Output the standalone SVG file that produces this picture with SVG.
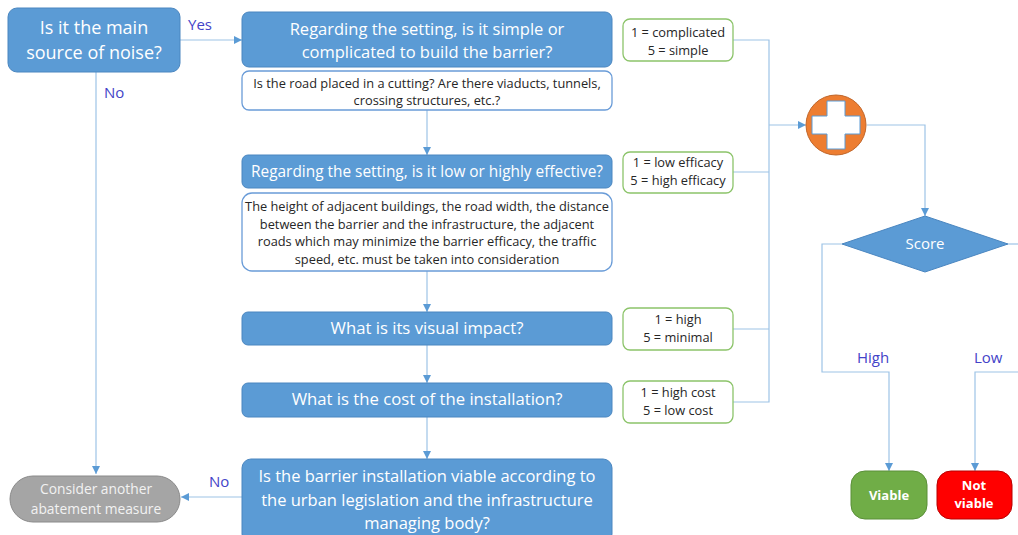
<svg xmlns="http://www.w3.org/2000/svg" width="1018" height="535" viewBox="0 0 1018 535">
  <style>
    .q { fill: #5B9BD5; stroke: #4A86C0; stroke-width: 1; }
    .note { fill: #FFFFFF; stroke: #6A9CD8; stroke-width: 1.3; }
    .scale { fill: #FFFFFF; stroke: #8CC46A; stroke-width: 1.3; }
    .wt { font-family: "Open Sans", "Liberation Sans", sans-serif; fill: #FFFFFF; text-anchor: middle; }
    .dk { font-family: "Open Sans", "Liberation Sans", sans-serif; fill: #262626; text-anchor: middle; }
    .lbl { font-family: "Open Sans", "Liberation Sans", sans-serif; fill: #4343C8; font-size: 15px; }
    .bold { font-weight: bold; }
    .conn { fill: none; stroke: #9DC3E6; stroke-width: 1.2; }
  </style>
  <defs>
    <marker id="arrow" viewBox="0 0 10 10" refX="10" refY="5" markerWidth="8" markerHeight="8" markerUnits="userSpaceOnUse" orient="auto">
      <path d="M0,0 L10,5 L0,10 z" fill="#5B9BD5"/>
    </marker>
  </defs>

  <!-- connectors -->
  <g id="connectors">
    <path class="conn" d="M180,40 H242" marker-end="url(#arrow)"/>
    <path class="conn" d="M96,72 V474" marker-end="url(#arrow)"/>
    <path class="conn" d="M427,110 V155" marker-end="url(#arrow)"/>
    <path class="conn" d="M427,271 V312" marker-end="url(#arrow)"/>
    <path class="conn" d="M427,345 V383" marker-end="url(#arrow)"/>
    <path class="conn" d="M427,417 V459" marker-end="url(#arrow)"/>
    <path class="conn" d="M242,497 H181" marker-end="url(#arrow)"/>
    <path class="conn" d="M733,40 H769 V402 H733"/>
    <path class="conn" d="M733,172 H769"/>
    <path class="conn" d="M733,329 H769"/>
    <path class="conn" d="M769,125 H806" marker-end="url(#arrow)"/>
    <path class="conn" d="M867,125 H925 V216" marker-end="url(#arrow)"/>
    <path class="conn" d="M842,244 H822 V372 H889 V471" marker-end="url(#arrow)"/>
    <path class="conn" d="M1008,244 H1020"/>
    <path class="conn" d="M1020,372 H975 V471" marker-end="url(#arrow)"/>
  </g>

  <!-- connector labels -->
  <g id="labels">
    <text class="lbl" x="188" y="30">Yes</text>
    <text class="lbl" x="104" y="98">No</text>
    <text class="lbl" x="209" y="487">No</text>
    <text class="lbl" x="857" y="363">High</text>
    <text class="lbl" x="974" y="363">Low</text>
  </g>

  <g id="main-source">
    <rect class="q" x="8" y="8" width="172" height="64" rx="9"/>
    <text class="wt" x="94" y="34" font-size="18">Is it the main</text>
    <text class="wt" x="94" y="59" font-size="18">source of noise?</text>
  </g>

  <g id="build-setting">
    <rect class="q" x="242" y="12" width="370" height="55" rx="7"/>
    <text class="wt" x="427" y="35" font-size="16.5">Regarding the setting, is it simple or</text>
    <text class="wt" x="427" y="58" font-size="16.5">complicated to build the barrier?</text>
  </g>
  <g id="build-note">
    <rect class="note" x="242" y="71" width="370" height="39" rx="7"/>
    <text class="dk" x="427" y="88" font-size="12.8">Is the road placed in a cutting? Are there viaducts, tunnels,</text>
    <text class="dk" x="427" y="105" font-size="12.8">crossing structures, etc.?</text>
  </g>

  <g id="efficacy">
    <rect class="q" x="242" y="155" width="370" height="33" rx="6"/>
    <text class="wt" x="427" y="177" font-size="15.4">Regarding the setting, is it low or highly effective?</text>
  </g>
  <g id="efficacy-note">
    <rect class="note" x="242" y="193" width="370" height="78" rx="10"/>
    <text class="dk" x="427" y="211" font-size="12.8">The height of adjacent buildings, the road width, the distance</text>
    <text class="dk" x="427" y="229" font-size="12.8">between the barrier and the infrastructure, the adjacent</text>
    <text class="dk" x="427" y="246" font-size="12.8">roads which may minimize the barrier efficacy, the traffic</text>
    <text class="dk" x="427" y="264" font-size="12.8">speed, etc. must be taken into consideration</text>
  </g>

  <g id="visual-impact">
    <rect class="q" x="242" y="312" width="370" height="33" rx="6"/>
    <text class="wt" x="427" y="334" font-size="16.7">What is its visual impact?</text>
  </g>

  <g id="cost">
    <rect class="q" x="242" y="383" width="370" height="34" rx="6"/>
    <text class="wt" x="427" y="405" font-size="16.7">What is the cost of the installation?</text>
  </g>

  <g id="legislation">
    <rect class="q" x="242" y="459" width="370" height="84" rx="9"/>
    <text class="wt" x="427" y="482" font-size="16.5">Is the barrier installation viable according to</text>
    <text class="wt" x="427" y="506" font-size="16.5">the urban legislation and the infrastructure</text>
    <text class="wt" x="427" y="529" font-size="16.5">managing body?</text>
  </g>

  <g id="another-measure">
    <rect x="10" y="476" width="170" height="46" rx="23" fill="#A5A5A5" stroke="#8A8A8A" stroke-width="1"/>
    <text x="96" y="494" font-size="13.8" font-family="Open Sans, Liberation Sans, sans-serif" fill="#F2F2F2" text-anchor="middle">Consider another</text>
    <text x="96" y="514" font-size="13.8" font-family="Open Sans, Liberation Sans, sans-serif" fill="#F2F2F2" text-anchor="middle">abatement measure</text>
  </g>

  <g id="scale-complexity">
    <rect class="scale" x="623" y="19" width="110" height="42" rx="7"/>
    <text class="dk" x="678" y="37" font-size="12.8">1 = complicated</text>
    <text class="dk" x="678" y="55" font-size="12.8">5 = simple</text>
  </g>
  <g id="scale-efficacy">
    <rect class="scale" x="623" y="152" width="110" height="41" rx="7"/>
    <text class="dk" x="678" y="167" font-size="12.8">1 = low efficacy</text>
    <text class="dk" x="678" y="185" font-size="12.8">5 = high efficacy</text>
  </g>
  <g id="scale-visual">
    <rect class="scale" x="623" y="308" width="110" height="42" rx="7"/>
    <text class="dk" x="678" y="324" font-size="12.8">1 = high</text>
    <text class="dk" x="678" y="342" font-size="12.8">5 = minimal</text>
  </g>
  <g id="scale-cost">
    <rect class="scale" x="623" y="381" width="110" height="42" rx="7"/>
    <text class="dk" x="678" y="397" font-size="12.8">1 = high cost</text>
    <text class="dk" x="678" y="415" font-size="12.8">5 = low cost</text>
  </g>

  <g id="sum">
    <circle cx="836" cy="125" r="30" fill="#ED7D31" stroke="#C0662A" stroke-width="1"/>
    <path d="M827,101 H845 V116 H860 V134 H845 V149 H827 V134 H812 V116 H827 Z" fill="#FFFFFF" stroke="#5B9BD5" stroke-width="1"/>
  </g>

  <g id="score">
    <polygon points="925,216 1008,244 925,272 842,244" fill="#5B9BD5" stroke="#4A86C0" stroke-width="1"/>
    <text class="wt" x="925" y="249" font-size="15">Score</text>
  </g>

  <g id="viable">
    <rect x="851" y="471" width="76" height="48" rx="14" fill="#70AD47" stroke="#5A8F38" stroke-width="1"/>
    <text class="wt bold" x="889" y="500" font-size="13">Viable</text>
  </g>

  <g id="not-viable">
    <rect x="937" y="471" width="75" height="48" rx="14" fill="#FF0000" stroke="#B80000" stroke-width="1"/>
    <text class="wt bold" x="974" y="490" font-size="13">Not</text>
    <text class="wt bold" x="974" y="508" font-size="13">viable</text>
  </g>
</svg>
